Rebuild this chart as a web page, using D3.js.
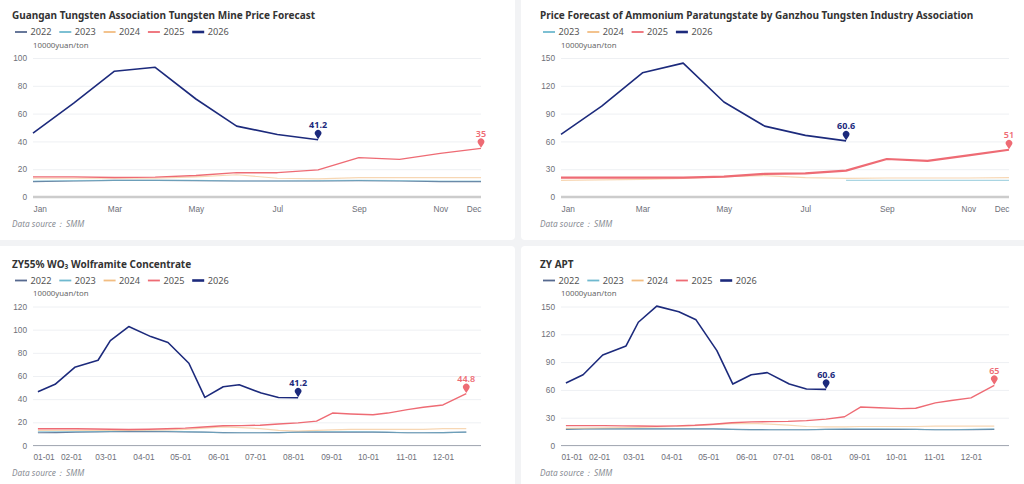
<!DOCTYPE html>
<html>
<head>
<meta charset="utf-8">
<script src="https://cdn.jsdelivr.net/npm/d3@7"></script>
<style>
  body { margin: 0; background: #f2f3f5; }
  svg { display: block; font-family: "Noto Sans", "Open Sans", sans-serif; }
</style>
</head>
<body>
<script>
// datos (unidad: 10000 yuan/ton)
const months = ['Jan', 'Feb', 'Mar', 'Apr', 'May', 'Jun', 'Jul', 'Aug', 'Sep', 'Oct', 'Nov', 'Dec'];
const monthLabels = ['Jan', 'Mar', 'May', 'Jul', 'Sep', 'Nov', 'Dec'];
const dayLabels = ['01-01', '02-01', '03-01', '04-01', '05-01', '06-01', '07-01', '08-01', '09-01', '10-01', '11-01', '12-01'];
const years = ['2022', '2023', '2024', '2025', '2026'];

// Guangan - tungsten mine (mensual)
const mine2022 = [11, 11.5, 12, 12, 11.8, 11.5, 11.5, 11.5, 11.8, 11.5, 11, 11];
const mine2023 = [11.5, 11.8, 12, 12, 12, 11.5, 11.5, 11.8, 12, 11.8, 11.5, 11.5];
const mine2024 = [13.5, 13.5, 13.5, 13.5, 14.5, 16, 13.5, 13, 14, 14, 14, 14];
const mine2025 = [14.5, 14.5, 14, 14.3, 15.5, 17.5, 17.5, 19.5, 28.3, 27.1, 31.4, 35];
const mine2026 = [46, 67.5, 90.5, 93.3, 70.5, 51, 45, 41.2];

// Ganzhou - APT (mensual)
const ganzhou2023 = [null, null, null, null, null, null, null, 18, 18, 18, 18, 18];
const ganzhou2024 = [18, 18.5, 19, 20, 22, 23, 21, 20, 20.5, 20.5, 20.5, 21];
const ganzhou2025 = [21, 21, 21, 21, 22, 25, 25.5, 28.5, 41, 39, 45, 51];
const ganzhou2026 = [67.5, 98, 134, 144.5, 102.5, 76.5, 66.5, 60.6];

// fechas de las previsiones quincenales
const datesPrev = ['01-05', '01-20', '02-05', '02-20', '03-05', '03-20', '04-05', '04-20', '05-05', '05-20', '06-05', '06-20',
  '07-05', '07-20', '08-05', '08-20', '09-02', '09-17', '10-05', '10-17', '11-02', '11-15', '12-01', '12-20'];
const dates2026 = ['01-05', '01-19', '02-04', '02-23', '03-05', '03-20', '04-07', '04-21', '05-08', '05-21', '06-05', '06-18',
  '07-06', '07-20', '08-05'];

// ZY55% WO3 wolframite
const wolf2022 = [11, 11.2, 11.5, 11.8, 12, 12, 12, 12, 11.8, 11.5, 11.2, 11, 11, 11.2, 11.5, 11.5, 11.5, 11.5, 11.5, 11.3, 11, 11, 11.2, 11.5];
const wolf2023 = [12, 12, 12, 12, 12.2, 12.5, 12.5, 12.3, 12, 11.5, 11, 11, 11, 11, 11.5, 12, 12, 12, 11.8, 11.5, 11, 11, 11.2, 11.5];
const wolf2024 = [13, 13, 13, 13, 13, 13, 13.2, 13.5, 14, 15, 16, 15.5, 14.5, 13, 12.5, 13, 13.5, 14, 14, 14, 14, 14, 14.5, 14.5];
const wolf2025 = [14.5, 14.5, 14.4, 14.2, 14, 13.8, 14, 14.5, 15, 16, 17, 17.2, 17.5, 18.5, 19.5, 21, 28, 27.2, 26.6, 28, 31, 33, 35, 44.8];
const wolf2026 = [46.4, 52.8, 67.5, 73.6, 90.6, 102.7, 94, 88.9, 71, 41.5, 50.7, 52.5, 45.3, 41.5, 41.2];

// ZY APT
const zyApt2022 = [17.5, 17.8, 18, 18, 18, 18, 18, 18, 18, 17.5, 17.2, 17, 17, 17, 17.3, 17.5, 17.5, 17.5, 17.5, 17.3, 17, 17, 17.2, 17.5];
const zyApt2023 = [18, 18, 18, 18, 18, 18, 18, 18, 18, 17.5, 17, 17, 17, 17, 17.5, 18, 18, 18, 17.8, 17.5, 17, 17, 17.5, 18];
const zyApt2024 = [18.5, 18.8, 19, 19.2, 19.5, 20, 20.5, 21.5, 22.5, 23.5, 23.8, 23, 22, 20.5, 20, 20, 20.5, 20.5, 20.5, 20.5, 21, 21, 21, 21];
const zyApt2025 = [21.5, 21.5, 21.4, 21.2, 21, 20.8, 21.2, 21.8, 23, 24.5, 25.5, 25.8, 26, 26.8, 28.5, 31, 41.5, 40.8, 39.8, 40.2, 46, 48.5, 51.4, 65];
const zyApt2026 = [67.5, 76.4, 97.7, 107.5, 133, 150.4, 144.3, 135.6, 102.4, 66.3, 76.4, 78.6, 66.3, 61, 60.6];

// colores por año
const colors = {
  '2022': '#56698f',
  '2023': '#6fb9cf',
  '2024': '#f2bd82',
  '2025': '#ee6b74',
  '2026': '#1c2a7c'
};
const opacity = { '2022': 0.9, '2023': 0.6, '2024': 0.6, '2025': 1, '2026': 1 };

const W = 1024, H = 484;
const parseDay = d => new Date(Date.UTC(2026, +d.slice(0, 2) - 1, +d.slice(3, 5)));

const panels = [
  {
    title: 'Guangan Tungsten Association Tungsten Mine Price Forecast',
    ox: 0, oy: 0, kind: 'month', yMax: 100, yStep: 20,
    series: [['2022', mine2022], ['2023', mine2023], ['2024', mine2024], ['2025', mine2025], ['2026', mine2026]]
  },
  {
    title: 'Price Forecast of Ammonium Paratungstate by Ganzhou Tungsten Industry Association',
    ox: 528, oy: 0, kind: 'month', yMax: 150, yStep: 30, thick2025: true,
    series: [['2023', ganzhou2023], ['2024', ganzhou2024], ['2025', ganzhou2025], ['2026', ganzhou2026]]
  },
  {
    title: 'ZY55% WO₃ Wolframite Concentrate',
    ox: 0, oy: 248.5, kind: 'time', yMax: 120, yStep: 20,
    series: [['2022', wolf2022], ['2023', wolf2023], ['2024', wolf2024], ['2025', wolf2025], ['2026', wolf2026]]
  },
  {
    title: 'ZY APT',
    ox: 528, oy: 248.5, kind: 'time', yMax: 150, yStep: 30,
    series: [['2022', zyApt2022], ['2023', zyApt2023], ['2024', zyApt2024], ['2025', zyApt2025], ['2026', zyApt2026]]
  }
];

const svg = d3.select('body').append('svg')
  .attr('width', W)
  .attr('height', H);

// tarjetas blancas
const cards = [[-6, -6, 521, 246], [521, -6, 510, 246], [-6, 246, 521, 244], [521, 246, 510, 244]];
svg.selectAll('rect.card')
  .data(cards)
  .join('rect')
  .attr('class', 'card')
  .attr('x', d => d[0]).attr('y', d => d[1])
  .attr('width', d => d[2]).attr('height', d => d[3])
  .attr('rx', 4)
  .attr('fill', '#fff');

const pinPath = 'M0,0 L-2.7,-4.2 A3.3,3.3 0 1 1 2.7,-4.2 Z';

const drawPanel = (p) => {
  const g = svg.append('g').attr('transform', `translate(${p.ox}, ${p.oy})`);
  const x0 = 33, x1 = 481, yTop = 58, yBot = 197;

  g.append('text')
    .attr('x', 12).attr('y', 19)
    .attr('font-size', 10).attr('font-weight', 700)
    .attr('fill', '#333')
    .text(p.title);

  // leyenda
  const leg = g.append('g').attr('class', 'legend');
  p.series.forEach(([yr], i) => {
    const lx = 15 + i * 44.3;
    leg.append('line')
      .attr('x1', lx).attr('x2', lx + 12)
      .attr('y1', 32).attr('y2', 32)
      .attr('stroke', colors[yr])
      .attr('stroke-width', yr === '2026' ? 2.6 : 1.8);
    leg.append('text')
      .attr('x', lx + 15.5).attr('y', 35.3)
      .attr('font-size', 9.2).attr('fill', '#555')
      .text(yr);
  });

  g.append('text')
    .attr('x', 33).attr('y', 47.8)
    .attr('font-size', 7.8).attr('fill', '#666')
    .text('10000yuan/ton');

  const y = d3.scaleLinear().domain([0, p.yMax]).range([yBot, yTop]);
  const ticks = d3.range(0, p.yMax + 0.1, p.yStep);

  const yAxis = d3.axisLeft(y)
    .tickValues(ticks)
    .tickSize(-(x1 - x0))
    .tickPadding(6);

  const ya = g.append('g')
    .attr('class', 'y axis')
    .attr('transform', `translate(${x0}, 0)`)
    .call(yAxis);
  ya.select('.domain').remove();
  ya.selectAll('line').attr('stroke', '#eef0f3');
  ya.selectAll('text').attr('font-size', 8.3).attr('fill', '#6e7079').attr('font-family', 'inherit');

  let x;
  if (p.kind === 'month') {
    x = d3.scalePoint().domain(months).range([x0, x1]);
  } else {
    x = d3.scaleUtc().domain([Date.UTC(2026, 0, 1), Date.UTC(2027, 0, 1)]).range([x0, x1]);
  }

  // línea base del eje x
  g.append('line')
    .attr('x1', x0).attr('x2', x1)
    .attr('y1', yBot).attr('y2', yBot)
    .attr('stroke', p.kind === 'month' ? '#ccc' : '#a6abb5')
    .attr('stroke-width', p.kind === 'month' ? 2.5 : 1);

  const xAxis = p.kind === 'month'
    ? d3.axisBottom(x).tickValues(monthLabels)
    : d3.axisBottom(x).tickValues(dayLabels.map(parseDay)).tickFormat(d3.utcFormat('%m-%d'));
  xAxis.tickSize(0).tickPadding(9);

  const xa = g.append('g')
    .attr('class', 'x axis')
    .attr('transform', `translate(0, ${yBot})`)
    .call(xAxis);
  xa.select('.domain').remove();
  const xt = xa.selectAll('text')
    .attr('font-size', 8.3).attr('fill', '#6e7079').attr('font-family', 'inherit');
  const n = xt.size();
  xt.attr('text-anchor', (d, i) => i === 0 ? 'start' : (p.kind === 'month' && i === n - 1 ? 'end' : 'middle'));

  // líneas de cada año
  const lines = g.append('g').attr('class', 'lines');
  p.series.forEach(([yr, vals]) => {
    let pts;
    if (p.kind === 'month') {
      pts = vals.map((v, i) => [x(months[i]), v]);
    } else {
      const ds = yr === '2026' ? dates2026 : datesPrev;
      pts = vals.map((v, i) => [x(parseDay(ds[i])), v]);
    }
    const line = d3.line()
      .defined(d => d[1] != null)
      .x(d => d[0])
      .y(d => y(d[1]));
    let sw = 1.2;
    if (yr === '2026') sw = 1.6;
    if (yr === '2025') sw = p.thick2025 ? 2.2 : 1.4;
    lines.append('path')
      .datum(pts)
      .attr('fill', 'none')
      .attr('stroke', colors[yr])
      .attr('stroke-opacity', opacity[yr])
      .attr('stroke-width', sw)
      .attr('stroke-linejoin', 'round')
      .attr('d', line);

    // marcador en el último valor
    if (yr === '2025' || yr === '2026') {
      const last = pts.filter(d => d[1] != null).pop();
      const mk = g.append('g')
        .attr('transform', `translate(${last[0]}, ${y(last[1]) - 0.5})`);
      mk.append('path').attr('d', pinPath).attr('fill', colors[yr]);
      mk.append('text')
        .attr('y', -11)
        .attr('text-anchor', 'middle')
        .attr('font-size', 9)
        .attr('font-weight', yr === '2026' ? 700 : 600)
        .attr('fill', colors[yr])
        .text(last[1]);
    }
  });

  g.append('text')
    .attr('x', 12).attr('y', 227)
    .attr('font-size', 8.3).attr('font-style', 'italic')
    .attr('fill', '#8a8d94')
    .text('Data source：  SMM');
};

panels.forEach(drawPanel);
</script>
</body>
</html>
